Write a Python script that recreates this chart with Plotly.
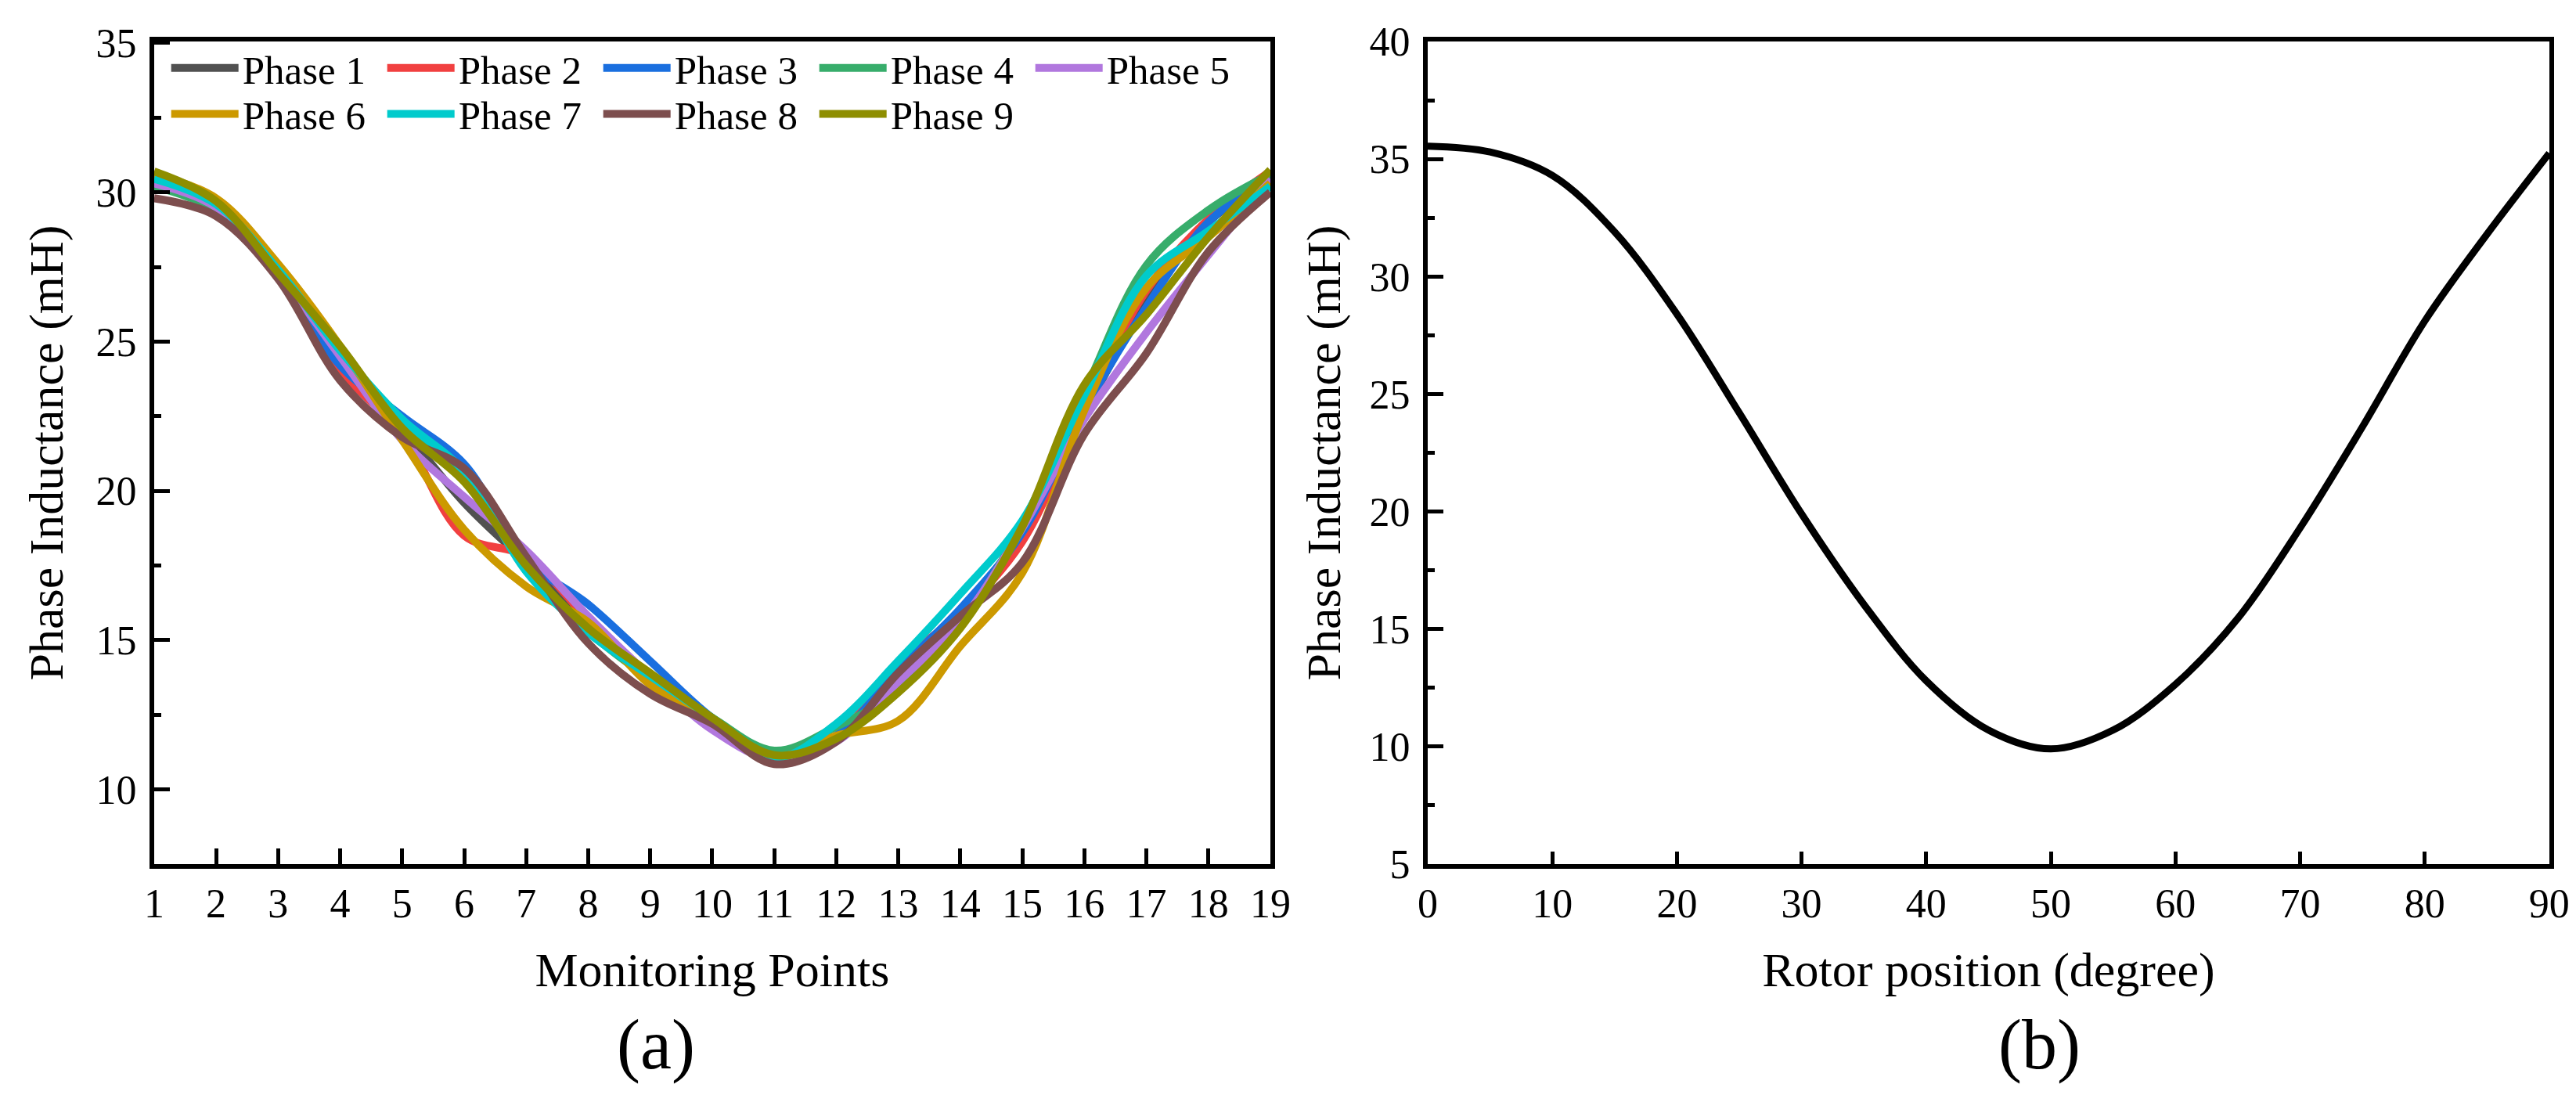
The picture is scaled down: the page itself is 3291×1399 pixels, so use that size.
import plotly.graph_objects as go

# (a) phase inductance at the 19 monitoring points
points = list(range(1, 20))
phase_names = ["Phase 1", "Phase 2", "Phase 3", "Phase 4", "Phase 5",
               "Phase 6", "Phase 7", "Phase 8", "Phase 9"]
phase_colors = ["#515151", "#F14040", "#1A6FDF", "#37AD6B", "#B177DE",
                "#CC9900", "#00CBCC", "#7D4E4E", "#8E8E00"]

phase1 = [30.3, 29.5, 27.3, 24.4, 22.1, 19.6, 17.6, 15.5, 13.8, 12.3, 11.1, 11.8, 13.9, 15.8, 18.6, 22.6, 26.3, 29.0, 30.4]
phase2 = [30.5, 29.6, 27.3, 24.05, 21.9, 18.5, 17.8, 15.7, 13.8, 12.2, 11.2, 11.8, 14.2, 15.9, 18.3, 22.7, 26.7, 29.1, 30.7]
phase3 = [30.2, 29.5, 27.3, 24.2, 22.5, 20.9, 17.7, 16.2, 14.3, 12.4, 11.1, 11.8, 14.0, 16.05, 18.6, 22.7, 26.15, 29.0, 30.5]
phase4 = [30.2, 29.4, 27.4, 24.6, 22.3, 20.5, 17.5, 15.3, 13.7, 12.4, 11.3, 12.1, 13.3, 15.5, 18.9, 23.3, 27.55, 29.4, 30.6]
phase5 = [30.3, 29.5, 27.3, 24.5, 21.7, 19.8, 18.0, 15.8, 13.8, 12.0, 11.0, 11.6, 13.6, 15.6, 18.75, 22.4, 25.3, 27.9, 30.45]
phase6 = [30.6, 29.8, 27.6, 24.85, 21.7, 18.7, 16.8, 15.6, 13.5, 12.3, 11.1, 11.8, 12.3, 14.8, 17.25, 22.7, 26.8, 28.5, 30.3]
phase7 = [30.45, 29.6, 27.4, 24.7, 22.4, 20.65, 17.3, 15.25, 13.8, 12.4, 11.05, 12.2, 14.3, 16.55, 19.0, 23.2, 27.2, 28.7, 30.2]
phase8 = [29.8, 29.2, 27.1, 23.7, 21.8, 20.75, 17.8, 14.9, 13.2, 12.2, 10.85, 11.6, 13.9, 15.8, 17.6, 21.9, 24.6, 28.0, 30.0]
phase9 = [30.7, 29.7, 27.3, 24.85, 22.1, 20.3, 17.5, 15.4, 13.9, 12.4, 11.15, 11.7, 13.25, 15.4, 18.8, 23.55, 25.9, 28.5, 30.75]
phases = [phase1, phase2, phase3, phase4, phase5, phase6, phase7, phase8, phase9]

# (b) inductance vs rotor position
rotor_deg = [0, 5, 10, 15, 20, 25, 30, 35, 40, 45, 50, 55, 60, 65, 70, 75, 80, 85, 90]
rotor_L = [35.55, 35.3, 34.3, 31.9, 28.4, 24.2, 19.9, 16.05, 12.8, 10.7, 9.9, 10.7, 12.65, 15.45, 19.3, 23.6, 28.1, 31.8, 35.25]

FONT = "Liberation Serif"

fig = go.Figure()
for i, (name, col, vals) in enumerate(zip(phase_names, phase_colors, phases)):
    fig.add_trace(go.Scatter(
        x=points, y=vals, name=name, mode="lines",
        line=dict(color=col, width=10, shape="spline", smoothing=1.0),
        xaxis="x", yaxis="y",
        legend="legend" if i < 5 else "legend2",
    ))

fig.add_trace(go.Scatter(
    x=rotor_deg, y=rotor_L, mode="lines", showlegend=False,
    line=dict(color="black", width=9, shape="spline", smoothing=1.0),
    xaxis="x2", yaxis="y2",
))

axis_common = dict(
    showgrid=False, zeroline=False, showline=True, linecolor="black",
    linewidth=6, mirror=True, ticks="inside", tickcolor="black",
    tickwidth=5, ticklen=20, automargin=False,
    tickfont=dict(family=FONT, size=52, color="black"),
)
minor_y = dict(ticks="inside", ticklen=9, tickwidth=5, tickcolor="black", dtick=2.5)
title_font = dict(family=FONT, size=62)
legend_style = dict(orientation="h", x=0.0625, xanchor="left", yanchor="top",
                    entrywidth=175, entrywidthmode="pixels", itemwidth=86,
                    font=dict(family=FONT, size=51), bgcolor="rgba(0,0,0,0)")

fig.update_layout(
    width=3291, height=1399,
    margin=dict(l=0, r=0, t=0, b=0),
    paper_bgcolor="white", plot_bgcolor="white",
    font=dict(family=FONT, color="black"),
    xaxis=dict(axis_common, domain=[0.0574, 0.4907], range=[1, 19],
               tickmode="linear", tick0=1, dtick=1, ticklabelstandoff=0,
               title=dict(text="Monitoring Points", standoff=36, font=title_font)),
    yaxis=dict(axis_common, domain=[0.2166, 0.9678], range=[7.5, 35.05],
               tickmode="linear", tick0=10, dtick=5, minor=minor_y,
               ticklabelstandoff=6,
               title=dict(text="Phase Inductance (mH)", standoff=24, font=title_font)),
    xaxis2=dict(axis_common, domain=[0.5518, 0.9872], range=[0, 90],
                tickmode="linear", tick0=0, dtick=10, ticklen=16,
                ticklabelstandoff=0, anchor="y2",
                title=dict(text="Rotor position (degree)", standoff=36, font=title_font)),
    yaxis2=dict(axis_common, domain=[0.2166, 0.9678], range=[5, 40],
                tickmode="linear", tick0=5, dtick=5, minor=minor_y,
                ticklabelstandoff=6, anchor="x2",
                title=dict(text="Phase Inductance (mH)", standoff=19, font=title_font)),
    legend=dict(legend_style, y=0.972),
    legend2=dict(legend_style, y=0.930),
    annotations=[
        dict(text="(a)", x=0.2522, y=0.0515, xref="paper", yref="paper",
             xanchor="center", yanchor="middle",
             showarrow=False, font=dict(family=FONT, size=90)),
        dict(text="(b)", x=0.7894, y=0.0515, xref="paper", yref="paper",
             xanchor="center", yanchor="middle",
             showarrow=False, font=dict(family=FONT, size=90)),
    ],
)

fig.write_html("out.html")
